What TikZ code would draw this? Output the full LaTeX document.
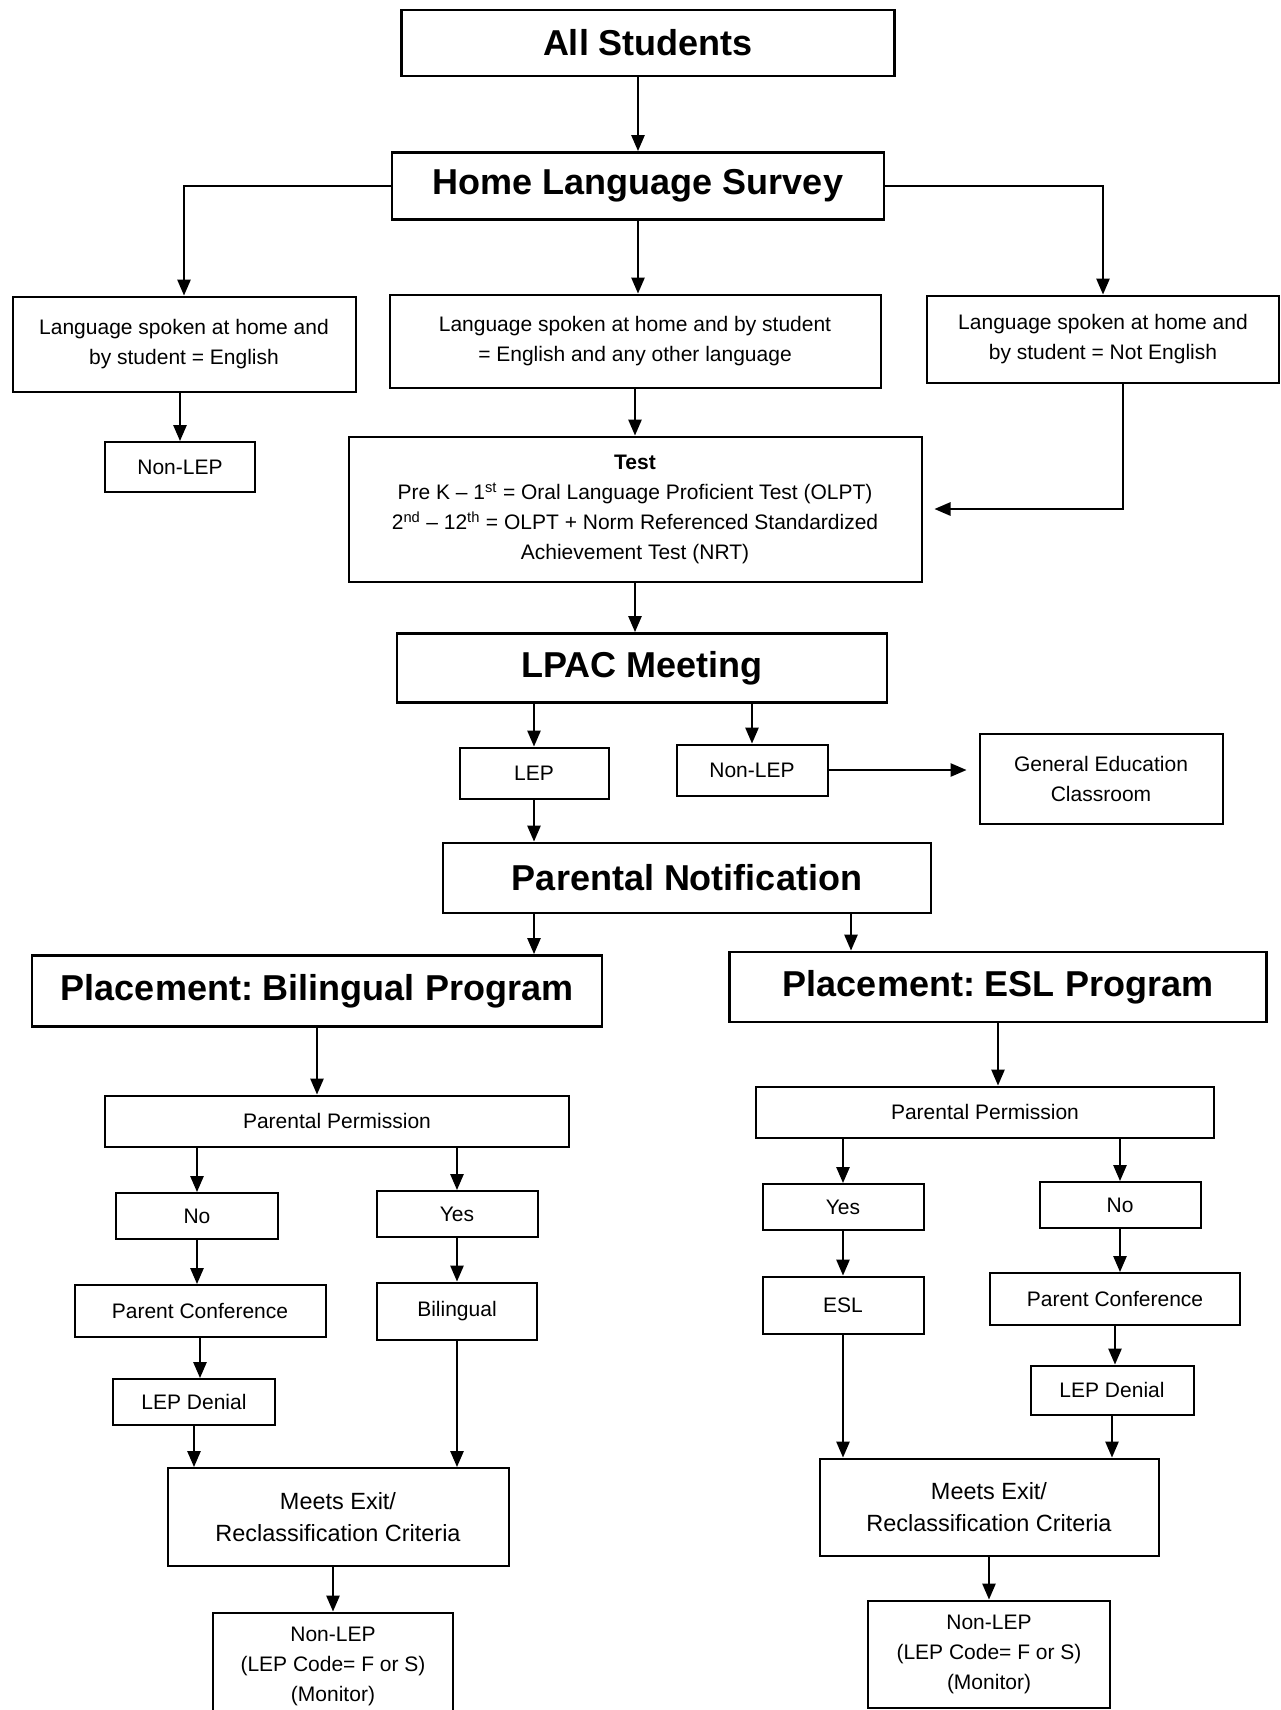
\documentclass[tikz,border=0pt]{standalone}
\usepackage{fontspec}
\setmainfont{Liberation Sans}
\usetikzlibrary{arrows.meta}
\frenchspacing

\tikzset{every picture/.style={line width=0.75pt}}
\tikzset{
  headbox/.style={draw, line width=2.2pt, inner sep=0pt, align=center,
    font=\fontsize{27}{34}\selectfont\bfseries},
  smallbox/.style={draw, line width=1.5pt, inner sep=0pt, align=center,
    font=\fontsize{15.75}{22.5}\selectfont},
  exitbox/.style={smallbox, font=\fontsize{17.6}{24}\selectfont},
  flowarr/.style={line width=1.3pt, -{Triangle[length=12pt,width=10pt]}}
}

\begin{document}
\begin{tikzpicture}[x=0.75pt,y=0.75pt,yscale=-1,xscale=1]
\useasboundingbox (0,0) rectangle (1281,1710);

%Shape: Rectangle -- top of the chart
\node [headbox, minimum width=369.75pt, minimum height=49.5pt] (allstu) at (648,43) {All Students};
\node [headbox, minimum width=369pt, minimum height=50.25pt] (hls) at (638,186) {Home Language Survey};

% Text Node -- survey outcomes
\node [smallbox, minimum width=257.25pt, minimum height=71.25pt] (engbox) at (184,344) {Language spoken at home and\\by student = English};
\node [smallbox, minimum width=368.25pt, minimum height=69.75pt] (bothbox) at (635,341) {Language spoken at home and by student\\= English and any other language};
\node [smallbox, minimum width=264pt, minimum height=65.25pt] (notbox) at (1103,339) {Language spoken at home and\\by student = Not English};

\node [smallbox, minimum width=112.5pt, minimum height=37.5pt] (nonlepA) at (180,467) {Non-LEP};
\node [smallbox, minimum width=429.75pt, minimum height=108.75pt] (test) at (635,509) {\textbf{Test}\\Pre K – 1\textsuperscript{st} = Oral Language Proficient Test (OLPT)\\2\textsuperscript{nd} – 12\textsuperscript{th} = OLPT + Norm Referenced Standardized\\Achievement Test (NRT)};

%Shape: Rectangle -- LPAC
\node [headbox, minimum width=367.5pt, minimum height=51.75pt] (lpac) at (642,668) {LPAC Meeting};
\node [smallbox, minimum width=111.75pt, minimum height=38.25pt] (lep) at (534,773) {LEP};
\node [smallbox, minimum width=113.25pt, minimum height=38.25pt] (nonlepB) at (752,770) {Non-LEP};
\node [smallbox, minimum width=182.25pt, minimum height=67.5pt] (gened) at (1101,779) {General Education\\Classroom};
\node [headbox, minimum width=366pt, minimum height=52.5pt] (parnot) at (687,878) {Parental Notification};

%Shape: Rectangle -- placements
\node [headbox, minimum width=427.5pt, minimum height=53.25pt] (plbil) at (317,991) {Placement: Bilingual Program};
\node [headbox, minimum width=402.75pt, minimum height=52.5pt] (plesl) at (998,987) {Placement: ESL Program};

% Text Node -- bilingual side
\node [smallbox, minimum width=348pt, minimum height=38.25pt] (ppA) at (337,1121) {Parental Permission};
\node [smallbox, minimum width=121.5pt, minimum height=34.5pt] (noA) at (197,1216) {No};
\node [smallbox, minimum width=120.75pt, minimum height=34.5pt] (yesA) at (457,1214) {Yes};
\node [smallbox, minimum width=188.25pt, minimum height=39pt] (confA) at (200,1311) {Parent Conference};
\node [smallbox, minimum width=120pt, minimum height=42.75pt] (bilA) at (457,1311) {Bilingual};
\node [smallbox, minimum width=121.5pt, minimum height=34.5pt] (denA) at (194,1402) {LEP Denial};
\node [exitbox, minimum width=255.75pt, minimum height=73.5pt] (exitA) at (338,1517) {Meets Exit/\\Reclassification Criteria};
\node [smallbox, minimum width=180pt, minimum height=80.25pt] (finA) at (333,1666) {Non-LEP\\(LEP Code= F or S)\\(Monitor)};

% Text Node -- ESL side
\node [smallbox, minimum width=343.5pt, minimum height=38.25pt] (ppB) at (985,1112) {Parental Permission};
\node [smallbox, minimum width=120.75pt, minimum height=34.5pt] (yesB) at (843,1207) {Yes};
\node [smallbox, minimum width=120.75pt, minimum height=34.5pt] (noB) at (1120,1205) {No};
\node [smallbox, minimum width=120.75pt, minimum height=42.75pt] (eslB) at (843,1305) {ESL};
\node [smallbox, minimum width=187.5pt, minimum height=39pt] (confB) at (1115,1299) {Parent Conference};
\node [smallbox, minimum width=122.25pt, minimum height=36.75pt] (denB) at (1112,1390) {LEP Denial};
\node [exitbox, minimum width=254.25pt, minimum height=72.75pt] (exitB) at (989,1507) {Meets Exit/\\Reclassification Criteria};
\node [smallbox, minimum width=181.5pt, minimum height=80.25pt] (finB) at (989,1654) {Non-LEP\\(LEP Code= F or S)\\(Monitor)};

% free ends of some connectors
\coordinate (nbDrop) at (1123,383);
\coordinate (pnRight) at (851,912);

%Straight Lines -- top part
\draw [flowarr] (allstu.south -| hls.north) -- (hls.north);
\draw [flowarr] (hls.west) -| (engbox.north);
\draw [flowarr] (hls.south) -- (hls.south |- bothbox.north);
\draw [flowarr] (hls.east) -| (notbox.north);
\draw [flowarr] (engbox.south -| nonlepA.north) -- (nonlepA.north);
\draw [flowarr] (bothbox.south) -- (test.north);
\draw [flowarr, shorten >=9pt] (nbDrop) |- (test.east);
\draw [flowarr] (test.south) -- (test.south |- lpac.north);

%Straight Lines -- LPAC part
\draw [flowarr] (lpac.south -| lep.north) -- (lep.north);
\draw [flowarr] (lpac.south -| nonlepB.north) -- (nonlepB.north);
\draw [flowarr, shorten >=9pt] (nonlepB.east) -- (nonlepB.east -| gened.west);
\draw [flowarr] (lep.south) -- (lep.south |- parnot.north);
\draw [flowarr] (lep.south |- parnot.south) -- (lep.south |- plbil.north);
\draw [flowarr] (pnRight) -- (pnRight |- plesl.north);

%Straight Lines -- bilingual side
\draw [flowarr] (plbil.south) -- (plbil.south |- ppA.north);
\draw [flowarr] (ppA.south -| noA.north) -- (noA.north);
\draw [flowarr] (ppA.south -| yesA.north) -- (yesA.north);
\draw [flowarr] (noA.south) -- (noA.south |- confA.north);
\draw [flowarr] (yesA.south) -- (bilA.north);
\draw [flowarr] (confA.south) -- (confA.south |- denA.north);
\draw [flowarr] (denA.south) -- (denA.south |- exitA.north);
\draw [flowarr] (bilA.south) -- (bilA.south |- exitA.north);
\draw [flowarr] (exitA.south -| finA.north) -- (finA.north);

%Straight Lines -- ESL side
\draw [flowarr] (plesl.south) -- (plesl.south |- ppB.north);
\draw [flowarr] (ppB.south -| yesB.north) -- (yesB.north);
\draw [flowarr] (ppB.south -| noB.north) -- (noB.north);
\draw [flowarr] (yesB.south) -- (eslB.north);
\draw [flowarr] (noB.south) -- (noB.south |- confB.north);
\draw [flowarr] (confB.south) -- (confB.south |- denB.north);
\draw [flowarr] (eslB.south) -- (eslB.south |- exitB.north);
\draw [flowarr] (denB.south) -- (denB.south |- exitB.north);
\draw [flowarr] (exitB.south) -- (finB.north);

\end{tikzpicture}
\end{document}
